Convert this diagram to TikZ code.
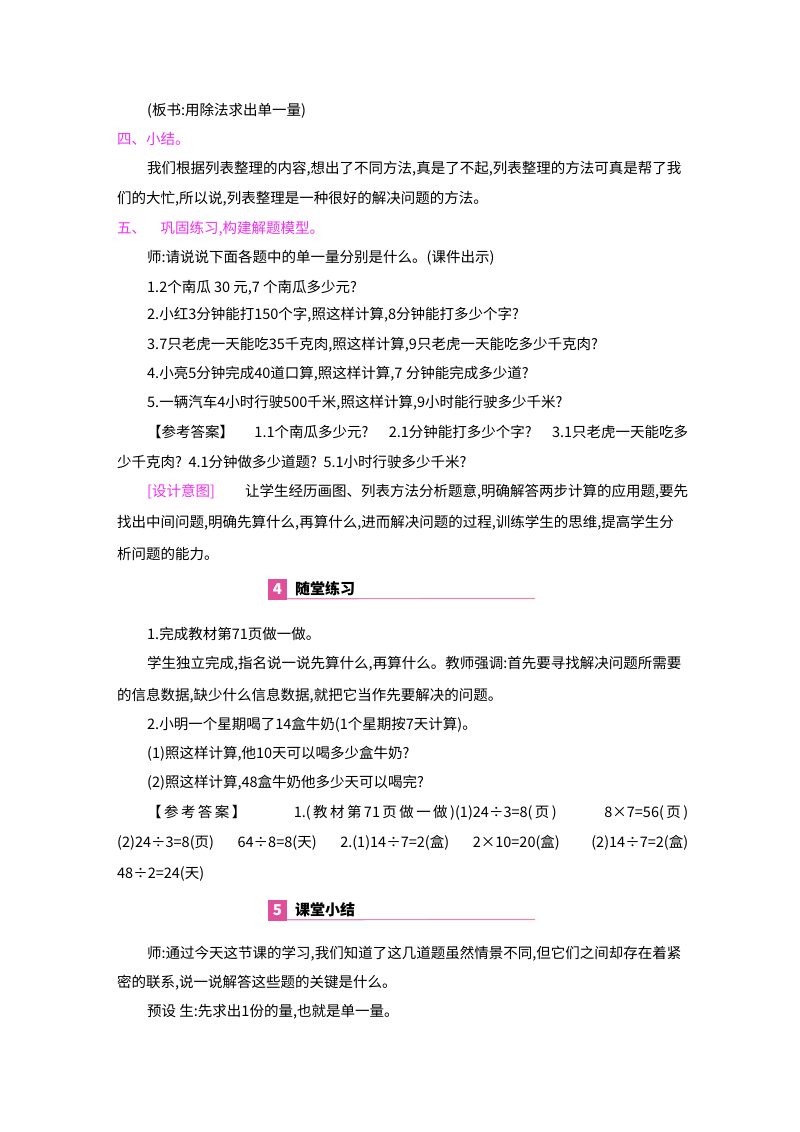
\documentclass[tikz,border=0pt]{standalone}
\usepackage{fontspec}
\setmainfont{Noto Sans CJK SC}
\XeTeXlinebreaklocale "zh"
\XeTeXlinebreakskip=0pt plus 2pt
\definecolor{mag}{HTML}{F030F0}
\definecolor{pinkbox}{HTML}{E0509A}
\definecolor{pinkline}{HTML}{E08AB4}
\newcommand{\pl}[4]{\node[txt] (#1) at (#2,-#3) {#4};}
\newcommand{\jl}[5]{\node[txt] (#1) at (#2,-#3) {\makebox[#4pt][s]{#5}};}
\begin{document}
\begin{tikzpicture}[x=1pt,y=1pt,
  txt/.style={anchor=base west,inner sep=0pt,font=\fontsize{14.5}{16}\selectfont},
  hd/.style={txt,text=mag}]
\useasboundingbox (0,0) rectangle (800,-1132);
\fill[white] (0,0) rectangle (800,-1132);
\pl{a1}{147}{115}{(板书:用除法求出单一量)}
\pl{a2}{117}{144}{\textcolor{mag}{四、小结。}}
\jl{a3}{147}{173}{541}{我们根据列表整理的内容,想出了不同方法,真是了不起,列表整理的方法可真是帮了我}
\pl{a4}{117}{203}{们的大忙,所以说,列表整理是一种很好的解决问题的方法。}
\pl{a5}{117}{233}{\textcolor{mag}{五、\quad 巩固练习,构建解题模型。}}
\pl{a6}{147}{262}{师:请说说下面各题中的单一量分别是什么。(课件出示)}
\pl{a7}{147}{292}{1.2个南瓜\ 30\ 元,7\ 个南瓜多少元?}
\pl{a8}{147}{319}{2.小红3分钟能打150个字,照这样计算,8分钟能打多少个字?}
\pl{a9}{147}{349}{3.7只老虎一天能吃35千克肉,照这样计算,9只老虎一天能吃多少千克肉?}
\pl{a10}{147}{378}{4.小亮5分钟完成40道口算,照这样计算,7\ 分钟能完成多少道?}
\pl{a11}{147}{407}{5.一辆汽车4小时行驶500千米,照这样计算,9小时能行驶多少千米?}
\jl{a12}{147}{437}{541}{【参考答案】\ \ 1.1个南瓜多少元?\ \ 2.1分钟能打多少个字?\ \ 3.1只老虎一天能吃多}
\pl{a13}{117}{467}{少千克肉?\ \ 4.1分钟做多少道题?\ \ 5.1小时行驶多少千米?}
\jl{a14}{147}{496}{541}{\textcolor{mag}{[设计意图]}\ \ \ 让学生经历画图、列表方法分析题意,明确解答两步计算的应用题,要先}
\jl{a15}{117}{527}{571}{找出中间问题,明确先算什么,再算什么,进而解决问题的过程,训练学生的思维,提高学生分}
\pl{a16}{117}{559}{析问题的能力。}
% header 4
\node[fill=pinkbox,minimum width=19pt,minimum height=21pt,inner sep=0pt,text=white,font=\bfseries\itshape\fontsize{15}{15}\selectfont] (h4) at (277.5,-589) {4};
\node[anchor=west,inner sep=0pt,font=\bfseries\fontsize{15}{15}\selectfont] (h4t) at (295,-589) {随堂练习};
\draw[pinkline,line width=1.2pt] (h4.south east) ++(0,1) -- (535,-598.5);
\pl{b1}{147}{639}{1.完成教材第71页做一做。}
\jl{b2}{147}{668}{541}{学生独立完成,指名说一说先算什么,再算什么。教师强调:首先要寻找解决问题所需要}
\pl{b3}{117}{700}{的信息数据,缺少什么信息数据,就把它当作先要解决的问题。}
\pl{b4}{147}{729}{2.小明一个星期喝了14盒牛奶(1个星期按7天计算)。}
\pl{b5}{147}{758}{(1)照这样计算,他10天可以喝多少盒牛奶?}
\pl{b6}{147}{787}{(2)照这样计算,48盒牛奶他多少天可以喝完?}
\jl{b7}{147}{817}{541}{【\,参\,考\,答\,案\,】\ \ \ \ 1.(\,教\,材\,第\,71\,页\,做\,一\,做\,)(1)24÷3=8(\,页\,)\ \ \ \ 8×7=56(\,页\,)}
\jl{b8}{117}{847}{571}{(2)24÷3=8(页)\ \ \ 64÷8=8(天)\ \ \ 2.(1)14÷7=2(盒)\ \ \ 2×10=20(盒)\ \ \ \ (2)14÷7=2(盒)}
\pl{b9}{117}{878}{48÷2=24(天)}
% header 5
\node[fill=pinkbox,minimum width=19pt,minimum height=21pt,inner sep=0pt,text=white,font=\bfseries\itshape\fontsize{15}{15}\selectfont] (h5) at (277.5,-910) {5};
\node[anchor=west,inner sep=0pt,font=\bfseries\fontsize{15}{15}\selectfont] (h5t) at (295,-910) {课堂小结};
\draw[pinkline,line width=1.2pt] (h5.south east) ++(0,1) -- (535,-919.5);
\jl{c1}{147}{958}{541}{师:通过今天这节课的学习,我们知道了这几道题虽然情景不同,但它们之间却存在着紧}
\pl{c2}{117}{987}{密的联系,说一说解答这些题的关键是什么。}
\pl{c3}{147}{1016}{预设\ 生:先求出1份的量,也就是单一量。}
\end{tikzpicture}
\end{document}
